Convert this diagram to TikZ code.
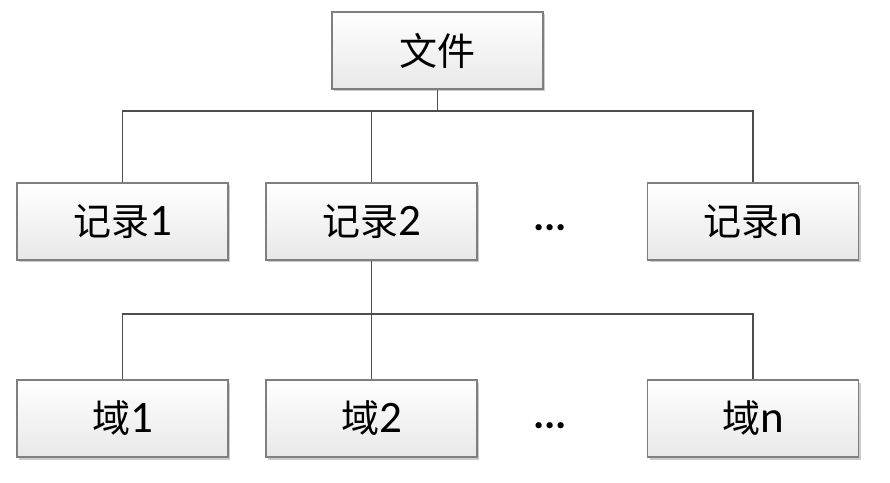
\documentclass[tikz,border=0pt]{standalone}
\usepackage{fontspec}
\setmainfont{Carlito}
\newfontfamily\cjk{Noto Sans CJK SC}
\usetikzlibrary{shadows}
\definecolor{boxline}{HTML}{7F7F7F}
\definecolor{linkline}{HTML}{4D4D4D}
\newcommand{\zh}[1]{{\cjk\fontsize{38}{42}\selectfont #1}}

\begin{document}
\begin{tikzpicture}[x=1pt,y=1pt,
  box/.style={draw=boxline,line width=1.3pt,minimum width=211pt,minimum height=77pt,
    inner sep=0pt,top color=white,bottom color=black!9,
    drop shadow={shadow xshift=2pt,shadow yshift=-2.5pt,opacity=0.2,fill=black},
    font=\fontsize{45}{48}\selectfont},
  link/.style={draw=linkline,line width=1.8pt},
  dots/.style={font=\fontsize{42}{44}\selectfont\bfseries}]
  \useasboundingbox (0,0) rectangle (890,482);
  % top level
  \node[box] (file) at (437.5,431.5) {\zh{文件}};
  % records
  \node[box] (rec1) at (122.5,260.5) {\zh{记录}1};
  \node[box] (rec2) at (371.5,260.5) {\zh{记录}2};
  \node[box] (recn) at (753,260.5) {\zh{记录}n};
  \node[dots] (recdots) at (550,254) {...};
  % fields
  \node[box] (fld1) at (122.5,63.5) {\zh{域}1};
  \node[box] (fld2) at (371.5,63.5) {\zh{域}2};
  \node[box] (fldn) at (753,63.5) {\zh{域}n};
  \node[dots] (flddots) at (550,56) {...};
  % buses
  \coordinate (bus1) at (437.5,371);
  \coordinate (bus2) at (371.5,168);
  \draw[link] (file.south) -- (bus1);
  \draw[link] (rec1.north) -- (rec1.north |- bus1) -- (recn.north |- bus1) -- (recn.north);
  \draw[link] (rec2.north) -- (rec2.north |- bus1);
  \draw[link] (rec2.south) -- (fld2.north);
  \draw[link] (fld1.north) -- (fld1.north |- bus2) -- (fldn.north |- bus2) -- (fldn.north);
\end{tikzpicture}
\end{document}
